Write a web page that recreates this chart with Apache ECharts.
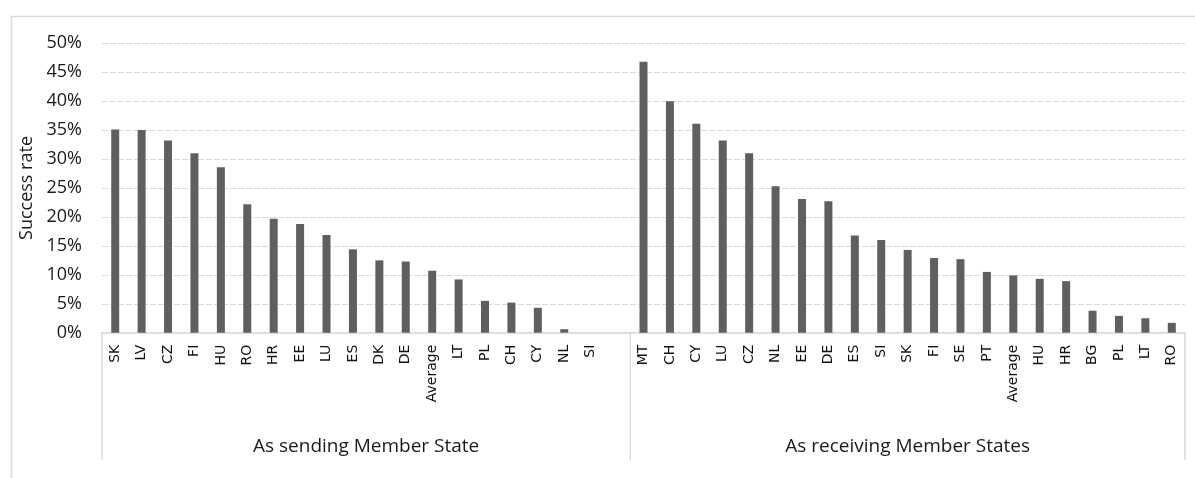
<!DOCTYPE html>
<html>
<head>
<meta charset="utf-8">
<script src="https://cdn.jsdelivr.net/npm/echarts@6/dist/echarts.min.js"></script>
<style>
html,body{margin:0;padding:0;background:#fff;}
#chart{width:1195px;height:478px;}
</style>
</head>
<body>
<div id="chart"></div>
<script>
// ---- data ----
const groupNames = ['As sending Member State', 'As receiving Member States'];
const sendingCats = ['SK','LV','CZ','FI','HU','RO','HR','EE','LU','ES','DK','DE','Average','LT','PL','CH','CY','NL','SI',''];
const sendingVals = [35.1, 35.0, 33.2, 31.0, 28.6, 22.2, 19.7, 18.8, 16.9, 14.4, 12.5, 12.3, 10.7, 9.2, 5.5, 5.2, 4.3, 0.6, 0, null];
const receivingCats = ['MT','CH','CY','LU','CZ','NL','EE','DE','ES','SI','SK','FI','SE','PT','Average','HU','HR','BG','PL','LT','RO'];
const receivingVals = [46.8, 40.0, 36.1, 33.2, 31.0, 25.3, 23.1, 22.7, 16.8, 16.0, 14.3, 12.9, 12.7, 10.5, 9.9, 9.3, 8.9, 3.8, 2.9, 2.5, 1.7];
const yTicks = [0, 5, 10, 15, 20, 25, 30, 35, 40, 45, 50];

const categories = sendingCats.concat(receivingCats);
const values = sendingVals.concat(receivingVals);

const FONT = '"Open Sans", sans-serif';
const CAT_FONT = '"DejaVu Sans", sans-serif';
const chart = echarts.init(document.getElementById('chart'));

const option = {
  animation: false,
  backgroundColor: '#fff',
  grid: { left: 102, right: 10, top: 43.3, bottom: 145.3, containLabel: false },
  xAxis: {
    type: 'category',
    data: categories,
    axisLine: { show: true, lineStyle: { color: '#d9d9d9', width: 1.5 } },
    axisTick: { show: false },
    axisLabel: {
      interval: 0, rotate: 90, margin: 12,
      fontFamily: CAT_FONT, fontSize: 14, color: '#111'
    }
  },
  yAxis: {
    type: 'value',
    min: yTicks[0], max: yTicks[yTicks.length - 1], interval: 5,
    name: 'Success rate',
    nameLocation: 'middle', nameGap: 66, nameRotate: 90,
    nameTextStyle: { fontFamily: FONT, fontSize: 18, color: '#1a1a1a' },
    axisLine: { show: false }, axisTick: { show: false },
    axisLabel: { formatter: '{value}%', fontFamily: FONT, fontSize: 18, color: '#1a1a1a', margin: 20 },
    splitLine: { lineStyle: { color: '#d9d9d9', width: 1, type: [6, 2] } }
  },
  series: [{
    type: 'bar',
    data: values,
    barWidth: 8,
    itemStyle: { color: '#5f5f5f' }
  }]
};
chart.setOption(option);

function decorate() {
  const c0 = chart.convertToPixel({ xAxisIndex: 0 }, 0);
  const c1 = chart.convertToPixel({ xAxisIndex: 0 }, 1);
  const band = c1 - c0;
  const y0 = chart.convertToPixel({ yAxisIndex: 0 }, 0);
  const boundaries = [0, sendingCats.length, categories.length].map(i =>
    chart.convertToPixel({ xAxisIndex: 0 }, Math.min(i, categories.length - 1)) + (i === categories.length ? band / 2 : -band / 2));
  const lineBottom = y0 + 127;
  const elements = [{
    type: 'rect', left: 9, top: 14, silent: true,
    shape: { x: 0, y: 0, width: 1300, height: 600 },
    style: { fill: null, stroke: '#d9d9d9', lineWidth: 1.5 }
  }];
  boundaries.forEach(x => elements.push({
    type: 'line', silent: true,
    shape: { x1: x, y1: y0, x2: x, y2: lineBottom },
    style: { stroke: '#d9d9d9', lineWidth: 1.5 }
  }));
  for (let g = 0; g < 2; g++) {
    const mid = (boundaries[g] + boundaries[g + 1]) / 2;
    elements.push({
      type: 'text', silent: true, x: mid, y: y0 + 114,
      style: { text: groupNames[g], fontFamily: FONT, fontSize: 19, fill: '#1a1a1a', align: 'center', verticalAlign: 'middle' }
    });
  }
  chart.setOption({ graphic: elements });
}
decorate();
</script>
</body>
</html>
